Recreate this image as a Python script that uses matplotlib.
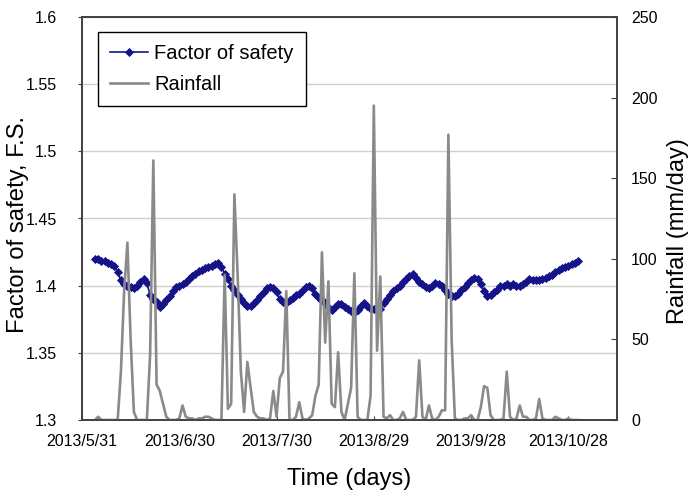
import matplotlib
matplotlib.use("Agg")
import matplotlib.pyplot as plt
import pandas as pd

plt.rcParams['font.family'] = ['Liberation Sans', 'DejaVu Sans']

start_date = "2013-06-04"
fos = [1.420, 1.4195, 1.418, 1.418, 1.417, 1.416, 1.415, 1.410, 1.404, 1.401,
       1.400, 1.399, 1.398, 1.400, 1.403, 1.405, 1.402, 1.393, 1.390, 1.388,
       1.384, 1.386, 1.389, 1.392, 1.396, 1.399, 1.400, 1.401, 1.403, 1.405,
       1.407, 1.409, 1.411, 1.412, 1.413, 1.414, 1.415, 1.416, 1.417, 1.414,
       1.409, 1.405, 1.400, 1.397, 1.393, 1.390, 1.387, 1.385, 1.385, 1.387,
       1.389, 1.392, 1.395, 1.398, 1.399, 1.398, 1.395, 1.390, 1.388, 1.387,
       1.389, 1.391, 1.393, 1.394, 1.396, 1.399, 1.400, 1.398, 1.394, 1.391,
       1.389, 1.387, 1.384, 1.382, 1.384, 1.386, 1.386, 1.384, 1.383, 1.381,
       1.380, 1.382, 1.385, 1.387, 1.385, 1.383, 1.383, 1.382, 1.383, 1.387,
       1.390, 1.393, 1.396, 1.398, 1.400, 1.403, 1.405, 1.407, 1.409, 1.406,
       1.403, 1.401, 1.399, 1.398, 1.400, 1.402, 1.401, 1.400, 1.397, 1.394,
       1.392, 1.392, 1.394, 1.397, 1.399, 1.402, 1.404, 1.406, 1.405, 1.401,
       1.396, 1.392, 1.393, 1.395, 1.397, 1.400, 1.400, 1.401, 1.400, 1.401,
       1.400, 1.400, 1.401, 1.403, 1.405, 1.404, 1.404, 1.404, 1.405, 1.406,
       1.407, 1.408, 1.410, 1.412, 1.413, 1.414, 1.415, 1.416, 1.417, 1.418]
rainfall = [0, 2, 0, 0, 0, 0, 0, 0, 30, 80,
            110, 50, 5, 0, 0, 0, 0, 40, 161, 22,
            18, 10, 2, 0, 0, 0, 1, 9, 2, 1,
            1, 0, 1, 1, 2, 2, 1, 0, 0, 0,
            90, 7, 10, 140, 90, 30, 5, 36, 20, 5,
            2, 1, 1, 0, 1, 18, 2, 26, 30, 80,
            0, 0, 2, 11, 1, 0, 1, 3, 15, 22,
            104, 48, 86, 10, 8, 42, 5, 0, 10, 20,
            91, 2, 0, 0, 0, 15, 195, 43, 89, 2,
            1, 3, 0, 0, 1, 5, 0, 0, 0, 2,
            37, 2, 0, 9, 1, 0, 2, 6, 6, 177,
            50, 1, 0, 0, 1, 1, 3, 0, 0, 8,
            21, 20, 3, 0, 0, 0, 1, 30, 2, 0,
            1, 9, 2, 2, 0, 0, 1, 13, 1, 0,
            0, 0, 2, 1, 0, 0, 1, 0, 0, 0]
tick_dates = ["2013-05-31", "2013-06-30", "2013-07-30", "2013-08-29", "2013-09-28", "2013-10-28"]
left_ticks = [1.3, 1.35, 1.4, 1.45, 1.5, 1.55, 1.6]
left_labels = ["1.3", "1.35", "1.4", "1.45", "1.5", "1.55", "1.6"]
right_ticks = [0, 50, 100, 150, 200, 250]

dates = pd.date_range(start_date, periods=len(fos), freq="D")

fig = plt.figure(figsize=(6.89, 4.98), dpi=100)
ax = fig.add_axes([82/689, 1-420/498, 535/689, 403/498])
ax2 = ax.twinx()

spine_c = "#404040"
navy = "#141488"
gray = "#8a8a8a"

l1, = ax.plot(dates, fos, color=navy, lw=1.2, marker="D", markersize=3.8,
              markeredgewidth=0.6, label="Factor of safety", zorder=3)
l2, = ax2.plot(dates, rainfall, color=gray, lw=1.9, label="Rainfall", zorder=2)

ax.set_ylim(1.3, 1.6)
ax.set_yticks(left_ticks)
ax.set_yticklabels(left_labels)
ax2.set_ylim(0, 250)
ax2.set_yticks(right_ticks)

xs = pd.Timestamp("2013-05-31")
ax.set_xlim(xs, xs + pd.Timedelta(days=165))
tds = pd.to_datetime(tick_dates)
ax.set_xticks(tds)
ax.set_xticklabels([f"{d.year}/{d.month}/{d.day}" for d in tds])

ax.grid(axis="y", color="#cfcfcf", lw=1.0)
ax.set_axisbelow(True)
for a in (ax, ax2):
    for s in a.spines.values():
        s.set_color(spine_c)
        s.set_linewidth(1.2)

ax.tick_params(axis="y", direction="out", length=3, pad=15, labelsize=11.5, color=spine_c)
ax.tick_params(axis="x", direction="in", length=3, pad=10, labelsize=11.5, color=spine_c)
ax2.tick_params(axis="y", direction="in", length=4, pad=10, labelsize=11.5, color=spine_c)

ax.set_xlabel("Time (days)", fontsize=17, labelpad=14)
ax.set_ylabel("Factor of safety, F.S.", fontsize=17.2, rotation=90, va="center")
ax.yaxis.set_label_coords(-0.12, 0.484)
ax2.set_ylabel("Rainfall (mm/day)", fontsize=17, rotation=90, va="center")
ax2.yaxis.set_label_coords(1.114, 0.47)

leg = ax2.legend(handles=[l1, l2], loc="upper left", bbox_to_anchor=(0.03, 0.963),
                 borderaxespad=0, fontsize=14.5, handlelength=1.9, handletextpad=0.3,
                 fancybox=False, framealpha=1, edgecolor="black", numpoints=1,
                 labelspacing=0.6, borderpad=0.6)
leg.get_frame().set_linewidth(1.0)

fig.savefig("out.png", dpi=100)
